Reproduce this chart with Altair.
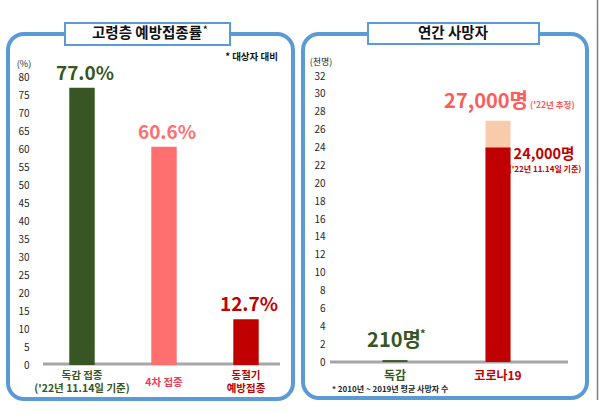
import altair as alt
import pandas as pd

# ---------------- data ----------------
vacc_cats = ["독감 접종", "4차 접종", "동절기 예방접종"]
vacc_rates = [77.0, 60.6, 12.7]
vacc_xlabels = ["독감 접종\n('22년 11.14일 기준)", "4차 접종", "동절기\n예방접종"]
vacc_yticks = list(range(0, 81, 5))

death_cats = ["독감", "코로나19"]
death_thousands = [0.21, 24.0]
death_estimate = [None, 27.0]
death_yticks = list(range(0, 33, 2))

FONT = "Noto Sans CJK KR"
BLUE = "#5b9bd5"

df_l = pd.DataFrame({"cat": vacc_cats, "rate": vacc_rates, "xlabel": vacc_xlabels})
df_r = pd.DataFrame({"cat": death_cats, "deaths": death_thousands, "est": death_estimate})
one = pd.DataFrame({"a": [0]})

# ---------------- left panel ----------------
xl = alt.X("cat:N", scale=alt.Scale(domain=vacc_cats, range=[41, 287],
                                    paddingInner=0.69, paddingOuter=0.345), axis=None)
yl_axis = alt.Axis(orient="left", offset=-31, values=vacc_yticks, labelPadding=2,
                   ticks=False, domain=False, grid=False, title=None, labelOverlap=False,
                   labelFontSize=10, labelColor="#262626")
yl = alt.Y("rate:Q", scale=alt.Scale(domain=[0, 80], range=[365, 77]), axis=yl_axis)
col_l = alt.Color("cat:N", scale=alt.Scale(domain=vacc_cats,
                                           range=["#375623", "#ff6f6f", "#c00000"]), legend=None)
xlab_col_l = alt.Color("cat:N", scale=alt.Scale(domain=vacc_cats,
                                                range=["#375623", "#e8405a", "#c00000"]), legend=None)
base_l = alt.Chart(df_l).transform_calculate(
    nl="length(split(datum.xlabel, '\\n'))",
    line1="split(datum.xlabel, '\\n')[0]",
    line2="length(split(datum.xlabel, '\\n')) > 1 ? split(datum.xlabel, '\\n')[1] : ''",
)
baseline_l = alt.Chart(one).mark_rule(color="#a6a6a6", strokeWidth=3).encode(
    x=alt.value(43), x2=alt.value(280), y=alt.value(364))
bars_l = base_l.mark_bar().encode(x=xl, y=yl, color=col_l)
vals_l = base_l.transform_calculate(
    lab="format(datum.rate, '.1f') + '%'"
).mark_text(baseline="bottom", dy=-4, dx=3, fontSize=19, fontWeight="bold").encode(
    x=xl, y=yl, text="lab:N", color=col_l)
xl_text = dict(baseline="middle", fontSize=10.5, fontWeight="bold")
xlab_l1 = base_l.transform_filter("datum.nl > 1").mark_text(**xl_text).encode(
    x=xl, y=alt.value(375.5), text="line1:N", color=xlab_col_l)
xlab_l2 = base_l.transform_filter("datum.nl > 1").mark_text(**xl_text).encode(
    x=xl, y=alt.value(389), text="line2:N", color=xlab_col_l)
xlab_single = base_l.transform_filter("datum.nl == 1").mark_text(**xl_text).encode(
    x=xl, y=alt.value(383), text="line1:N", color=xlab_col_l)
left_panel = alt.layer(baseline_l, bars_l, vals_l, xlab_l1, xlab_l2, xlab_single).resolve_scale(
    color="independent")

# ---------------- right panel ----------------
xr = alt.X("cat:N", scale=alt.Scale(domain=death_cats, range=[343.5, 549.5],
                                    paddingInner=0.757, paddingOuter=0.3785), axis=None)
yr_axis = alt.Axis(orient="left", offset=-327, values=death_yticks, labelPadding=2,
                   ticks=False, domain=False, grid=False, title=None, labelOverlap=False,
                   labelFontSize=10, labelColor="#262626")
yscale_r = alt.Scale(domain=[0, 32], range=[362, 76])


def yr(field):
    return alt.Y(f"{field}:Q", scale=yscale_r, axis=yr_axis)


base_r = alt.Chart(df_r)
baseline_r = alt.Chart(one).mark_rule(color="#a6a6a6", strokeWidth=3).encode(
    x=alt.value(330), x2=alt.value(568), y=alt.value(362))
est_bar = base_r.transform_filter("isValid(datum.est)").mark_bar(color="#f8cbad").encode(
    x=xr, y=yr("est"))
death_bar = base_r.mark_bar().encode(
    x=xr, y=yr("deaths"),
    color=alt.Color("cat:N", scale=alt.Scale(domain=death_cats, range=["#375623", "#c00000"]),
                    legend=None))
est_lab = base_r.transform_filter("isValid(datum.est)").transform_calculate(
    lab="format(datum.est * 1000, ',') + '명'"
).mark_text(align="right", baseline="bottom", dx=30, dy=-9, fontSize=20,
            fontWeight="bold", color="#ff5b5b").encode(x=xr, y=yr("est"), text="lab:N")
est_note = base_r.transform_filter("isValid(datum.est)").mark_text(
    align="left", baseline="bottom", dx=32, dy=-11, fontSize=8.5, fontWeight="bold",
    color="#ff5b5b", text="('22년 추정)").encode(x=xr, y=yr("est"))
cov_lab = base_r.transform_filter("datum.cat == '코로나19'").transform_calculate(
    lab="format(datum.deaths * 1000, ',') + '명'"
).mark_text(align="center", baseline="middle", dx=46, dy=7, fontSize=14.5,
            fontWeight="bold", color="#c00000").encode(x=xr, y=yr("deaths"), text="lab:N")
cov_note = base_r.transform_filter("datum.cat == '코로나19'").mark_text(
    align="center", baseline="middle", dx=47, dy=22, fontSize=8, fontWeight="bold",
    color="#c00000", text="('22년 11.14일 기준)").encode(x=xr, y=yr("deaths"))
flu_lab = base_r.transform_filter("datum.cat == '독감'").transform_calculate(
    lab="format(datum.deaths * 1000, ',') + '명'"
).mark_text(align="center", baseline="bottom", dx=-1, dy=-9, fontSize=20,
            fontWeight="bold", color="#375623").encode(x=xr, y=yr("deaths"), text="lab:N")
flu_star = base_r.transform_filter("datum.cat == '독감'").mark_text(
    align="left", baseline="bottom", dx=25, dy=-20, fontSize=11, fontWeight="bold",
    color="#375623", text="*").encode(x=xr, y=yr("deaths"))
xlab_r = base_r.mark_text(baseline="middle", fontSize=12, fontWeight="bold").encode(
    x=xr, y=alt.value(376), text="cat:N",
    color=alt.Color("cat:N", scale=alt.Scale(domain=death_cats, range=["#375623", "#c00000"]),
                    legend=None))
right_panel = alt.layer(baseline_r, est_bar, death_bar, est_lab, est_note, cov_lab, cov_note,
                        flu_lab, flu_star, xlab_r).resolve_scale(color="independent")

# ---------------- decorations ----------------
deco = alt.Chart(one)


def box(x1, x2, y1, y2, **kw):
    return deco.mark_rect(**kw).encode(x=alt.value(x1), x2=alt.value(x2),
                                       y=alt.value(y1), y2=alt.value(y2))


def txt(x, y, s, **kw):
    return deco.mark_text(text=s, **kw).encode(x=alt.value(x), y=alt.value(y))


border_l = box(8, 293, 34, 399, fillOpacity=0, stroke=BLUE, strokeWidth=4, cornerRadius=16)
border_r = box(303, 587, 34, 398, fillOpacity=0, stroke=BLUE, strokeWidth=4, cornerRadius=16)
tbox_l = box(65, 230, 23, 45, fill="white", stroke=BLUE, strokeWidth=2)
tbox_r = box(368, 539, 23, 44, fill="white", stroke=BLUE, strokeWidth=2)
title_l = txt(147, 34, "고령층 예방접종률", fontSize=14.5, fontWeight="bold", color="#111",
              baseline="middle", align="center")
title_l_star = txt(203, 30, "*", fontSize=9, fontWeight="bold", color="#111", baseline="middle",
                   align="left")
title_r = txt(453, 34, "연간 사망자", fontSize=14.5, fontWeight="bold", color="#111",
              baseline="middle", align="center")
unit_l = txt(24, 64, "(%)", fontSize=9, color="#262626", baseline="middle", align="center")
unit_r = txt(321, 62, "(천명)", fontSize=9, color="#262626", baseline="middle", align="center")
note_l = txt(278, 57, "* 대상자 대비", fontSize=9.5, fontWeight="bold", color="#111",
             baseline="middle", align="right")
note_r = txt(332, 390, "* 2010년 ~ 2019년 평균 사망자 수", fontSize=8, fontWeight="bold",
             color="#262626", baseline="middle", align="left")
edge = deco.mark_rule(color="#7f7f7f", strokeWidth=1.5).encode(
    x=alt.value(597.5), y=alt.value(0), y2=alt.value(400))

chart = alt.layer(
    border_l, border_r, tbox_l, tbox_r, title_l, title_l_star, title_r,
    unit_l, unit_r, note_l, note_r, edge, left_panel, right_panel
).resolve_scale(x="independent", y="independent", color="independent").properties(
    width=600, height=414, padding=0, autosize="none", background="white"
).configure(font=FONT).configure_view(stroke=None)

chart.save("out.html", embed_options={"renderer": "svg", "actions": False})
